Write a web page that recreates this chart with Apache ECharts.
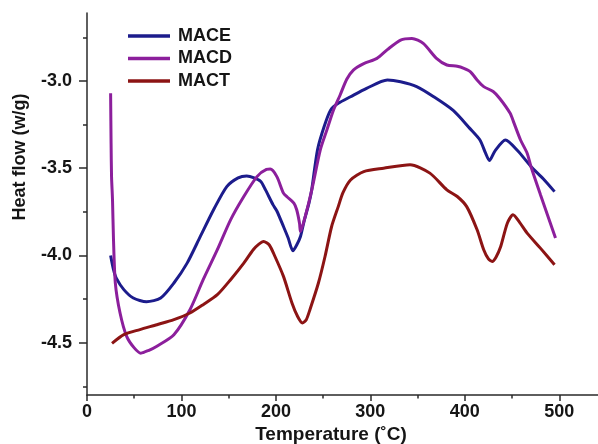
<!DOCTYPE html>
<html>
<head>
<meta charset="utf-8">
<script src="https://cdn.jsdelivr.net/npm/echarts@6/dist/echarts.min.js"></script>
<style>
html,body{margin:0;padding:0;background:#fff;}
#chart{width:598px;height:444px;}
</style>
</head>
<body>
<div id="chart"></div>
<script>
// Data
var seriesNames = ['MACE', 'MACD', 'MACT'];

var maceT = [25,28,31,39,49,63,78,92,106,120,134,148,160,169,177,184,189,197,201,208,213,218,222,226,230,235,238,244,251,258,266,279,296,318,332,349,367,388,405,416,422,426,432,443,456,470,483,495];
var maceV = [-4.0,-4.08,-4.13,-4.196,-4.244,-4.265,-4.244,-4.158,-4.044,-3.891,-3.738,-3.605,-3.555,-3.544,-3.555,-3.576,-3.624,-3.71,-3.745,-3.834,-3.9,-3.973,-3.94,-3.891,-3.80,-3.70,-3.62,-3.395,-3.262,-3.166,-3.128,-3.09,-3.042,-2.994,-3.004,-3.032,-3.09,-3.17,-3.27,-3.338,-3.414,-3.456,-3.40,-3.338,-3.40,-3.49,-3.56,-3.634];

var macdT = [25,25.5,26,27,28,30,35,42,50,57,65,74,92,109,123,138,152,166,180,190,194,201,208,212,219,222,225,226,231,238,247,254,261,268,275,282,293,307,318,332,344,356,370,381,392,399,406,413,420,430,437,448,452,459,466,470,480,496];
var macdV = [-3.07,-3.36,-3.55,-3.68,-3.9,-4.158,-4.33,-4.464,-4.53,-4.56,-4.545,-4.52,-4.454,-4.311,-4.139,-3.967,-3.796,-3.662,-3.548,-3.507,-3.505,-3.548,-3.643,-3.665,-3.70,-3.738,-3.815,-3.863,-3.777,-3.624,-3.395,-3.28,-3.166,-3.08,-2.99,-2.937,-2.90,-2.87,-2.82,-2.765,-2.756,-2.784,-2.87,-2.908,-2.915,-2.927,-2.947,-2.994,-3.032,-3.06,-3.1,-3.185,-3.24,-3.338,-3.414,-3.49,-3.65,-3.9];

var mactT = [26.5,39,56,74,92,109,123,138,152,166,176,182,187,193,199,208,217,223,228,232,236,245,252,259,266,271,279,293,314,342,363,381,392,402,413,420,425,429,433,438,445,451,458,466,480,495];
var mactV = [-4.504,-4.454,-4.425,-4.397,-4.368,-4.33,-4.282,-4.225,-4.139,-4.044,-3.967,-3.935,-3.92,-3.94,-4.006,-4.12,-4.272,-4.35,-4.387,-4.37,-4.311,-4.158,-4.006,-3.834,-3.72,-3.64,-3.567,-3.519,-3.50,-3.48,-3.528,-3.624,-3.662,-3.72,-3.853,-3.967,-4.02,-4.034,-4.01,-3.949,-3.815,-3.767,-3.81,-3.872,-3.958,-4.053];

var xMajorTicks = [0,100,200,300,400,500];
var xMinorTicks = [50,150,250,350,450];
var yMajorTicks = [-4.5,-4.0,-3.5,-3.0];
var yMinorTicks = [-4.75,-4.25,-3.75,-3.25,-2.75];

var colors = ['#1c1c8c', '#8c1f9c', '#8c1414'];

function zip(a, b) { return a.map(function (v, i) { return [v, b[i]]; }); }

var FONT = 'Liberation Sans, Arial, sans-serif';
var axisColor = '#2a2a2a';
var textColor = '#151515';

var chart = echarts.init(document.getElementById('chart'), null, {renderer: 'canvas'});

var xMin = 0, xMax = 541, yMin = -4.8, yMax = -2.61;

function mkSeries(name, t, v, c) {
  return {
    name: name, type: 'line', data: zip(t, v),
    xAxisIndex: 0, yAxisIndex: 0,
    symbol: 'none', smooth: 0.25,
    lineStyle: {color: c, width: 3},
    itemStyle: {color: c},
    emphasis: {disabled: true},
    animation: false
  };
}

var option = {
  animation: false,
  color: colors,
  grid: {left: 87, right: 0, top: 13, bottom: 49, containLabel: false},
  legend: {
    orient: 'vertical', left: 128, top: 27, padding: 0,
    itemWidth: 42, itemHeight: 14, itemGap: 4.5,
    icon: 'path://M0,5.5 L42,5.5 L42,9 L0,9 Z',
    data: seriesNames,
    textStyle: {fontFamily: FONT, fontWeight: 'bold', fontSize: 18, color: textColor, lineHeight: 18, padding: [0, 0, 0, 3]},
    selectedMode: false
  },
  xAxis: [{
    type: 'value', min: xMin, max: xMax, position: 'bottom',
    axisLine: {show: true, onZero: false, lineStyle: {color: axisColor, width: 1.5}},
    axisTick: {show: true, inside: false, length: 6, customValues: xMajorTicks, lineStyle: {color: axisColor, width: 1.5}},
    axisLabel: {show: true, customValues: xMajorTicks, margin: 8, fontFamily: FONT, fontWeight: 'bold', fontSize: 18, color: textColor},
    splitLine: {show: false}
  }, {
    type: 'value', min: xMin, max: xMax, position: 'bottom',
    axisLine: {show: false, onZero: false},
    axisTick: {show: true, inside: false, length: 3.5, customValues: xMinorTicks, lineStyle: {color: axisColor, width: 1.5}},
    axisLabel: {show: false},
    splitLine: {show: false}
  }],
  yAxis: [{
    type: 'value', min: yMin, max: yMax, position: 'left',
    axisLine: {show: true, onZero: false, lineStyle: {color: axisColor, width: 1.5}},
    axisTick: {show: true, inside: false, length: 8, customValues: yMajorTicks, lineStyle: {color: axisColor, width: 1.5}},
    axisLabel: {show: true, customValues: yMajorTicks, margin: 15, fontFamily: FONT, fontWeight: 'bold', fontSize: 18, color: textColor,
      formatter: function (v) { return v.toFixed(1); }},
    splitLine: {show: false}
  }, {
    type: 'value', min: yMin, max: yMax, position: 'left',
    axisLine: {show: false, onZero: false},
    axisTick: {show: true, inside: false, length: 4, customValues: yMinorTicks, lineStyle: {color: axisColor, width: 1.5}},
    axisLabel: {show: false},
    splitLine: {show: false}
  }],
  graphic: [{
    type: 'text', x: 20, y: 157, rotation: Math.PI / 2,
    style: {text: 'Heat flow (w/g)', font: 'bold 18px ' + FONT, fill: textColor, textAlign: 'center', textVerticalAlign: 'middle'}
  }, {
    type: 'text', x: 331, y: 434.5,
    style: {text: 'Temperature (\u02DAC)', font: 'bold 19px ' + FONT, fill: textColor, textAlign: 'center', textVerticalAlign: 'middle'}
  }],
  series: [
    mkSeries(seriesNames[0], maceT, maceV, colors[0]),
    mkSeries(seriesNames[1], macdT, macdV, colors[1]),
    mkSeries(seriesNames[2], mactT, mactV, colors[2])
  ]
};
chart.setOption(option);
</script>
</body>
</html>
